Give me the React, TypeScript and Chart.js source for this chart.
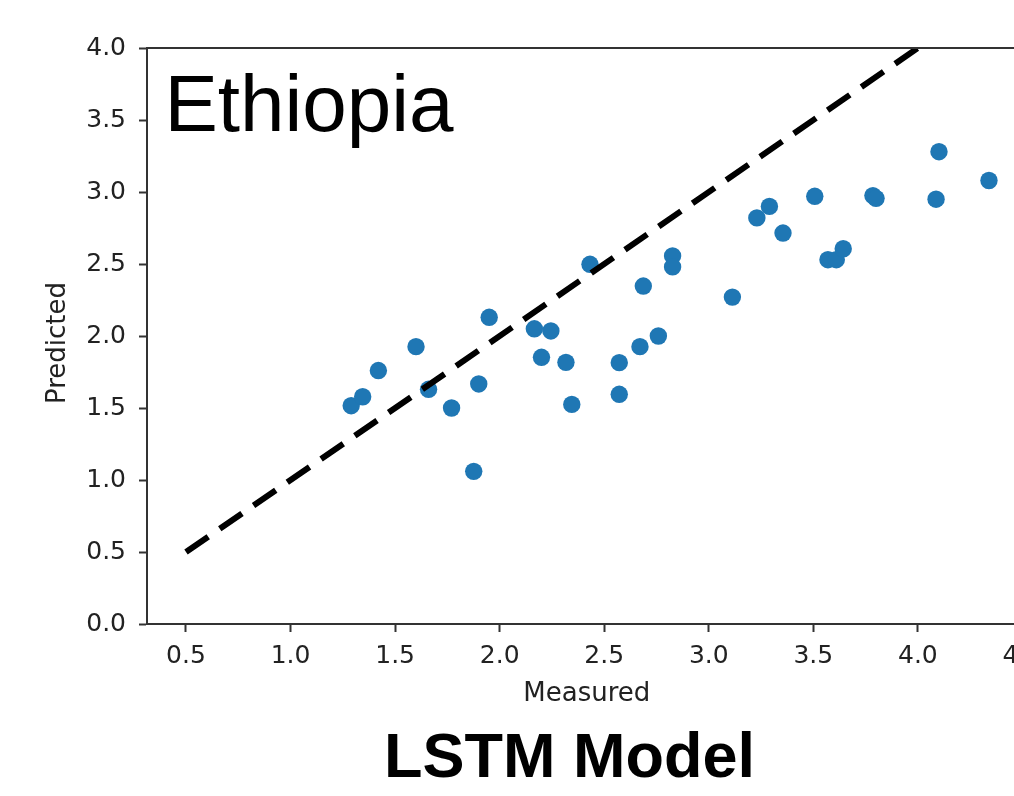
import React, { useEffect, useRef } from "react";
import { Chart, registerables } from "chart.js";

Chart.register(...registerables);

// ---- data ----
const measured = [
  1.29, 1.345, 1.42, 1.6, 1.66, 1.77, 1.876, 1.9, 1.95, 2.166, 2.245, 2.2,
  2.317, 2.345, 2.432, 2.572, 2.572, 2.671, 2.687, 2.759, 2.827, 2.827, 3.113,
  3.23, 3.29, 3.355, 3.507, 3.57, 3.61, 3.643, 3.785, 3.8, 4.087, 4.101, 4.34,
];
const predicted = [
  1.516, 1.578, 1.76, 1.926, 1.63, 1.5, 1.06, 1.667, 2.13, 2.05, 2.035, 1.852,
  1.817, 1.525, 2.498, 1.815, 1.595, 1.926, 2.347, 2.0, 2.556, 2.48, 2.27,
  2.82, 2.9, 2.715, 2.97, 2.53, 2.53, 2.606, 2.975, 2.956, 2.95, 3.28, 3.08,
];
const identityX = [0.5, 4.5];
const identityY = [0.5, 4.5];
const xLimits = [0.3135, 4.52];
const yLimits = [0, 4];
const tickStep = 0.5;
const panelLabel = "Ethiopia";
const modelLabel = "LSTM Model";
const xTitle = "Measured";
const yTitle = "Predicted";

const CANVAS_W = 1100;
const CANVAS_H = 796;
const SPINE = "#333333";
const TEXT = "#222222";

const decorations = {
  id: "decorations",
  afterDatasetsDraw(chart: any) {
    const { ctx, chartArea } = chart;
    ctx.save();
    ctx.strokeStyle = SPINE;
    ctx.lineWidth = 2;
    ctx.beginPath();
    ctx.moveTo(chartArea.left - 1, chartArea.top);
    ctx.lineTo(chartArea.right + 1, chartArea.top);
    ctx.moveTo(chartArea.right, chartArea.top);
    ctx.lineTo(chartArea.right, chartArea.bottom);
    ctx.stroke();
    // y-axis title (rotated), placed as in the reference
    ctx.translate(58, 343);
    ctx.rotate(-Math.PI / 2);
    ctx.fillStyle = TEXT;
    ctx.font = '26px "DejaVu Sans"';
    ctx.textAlign = "center";
    ctx.textBaseline = "middle";
    ctx.fillText(yTitle, 0, 0);
    ctx.restore();
  },
};

export default function App() {
  const ref = useRef<HTMLCanvasElement | null>(null);

  useEffect(() => {
    if (!ref.current) return;
    const points = measured.map((m, i) => ({ x: m, y: predicted[i] }));
    const line = identityX.map((v, i) => ({ x: v, y: identityY[i] }));
    const tickFont = { family: '"DejaVu Sans"', size: 25 };
    const titleFont = { family: '"DejaVu Sans"', size: 26 };
    const chart = new Chart(ref.current, {
      type: "scatter",
      data: {
        datasets: [
          {
            type: "line",
            data: line,
            borderColor: "#000000",
            borderWidth: 6,
            borderDash: [27, 14],
            borderCapStyle: "butt",
            pointRadius: 0,
            fill: false,
            clip: 0,
            order: 0,
          } as any,
          {
            type: "scatter",
            data: points,
            backgroundColor: "#1f77b4",
            borderWidth: 0,
            pointRadius: 8.7,
            pointHoverRadius: 8.7,
            order: 1,
          } as any,
        ],
      },
      options: {
        responsive: false,
        animation: false,
        devicePixelRatio: 1,
        layout: {
          padding: {
            left: 0,
            top: 48,
            right: CANVAS_W - 1026.6,
            bottom: CANVAS_H - 709.6,
          },
        },
        plugins: {
          legend: { display: false },
          tooltip: { enabled: false },
          title: { display: false },
        },
        scales: {
          x: {
            type: "linear",
            min: xLimits[0],
            max: xLimits[1],
            afterFit: (s: any) => {
              s.height = 85.6;
            },
            ticks: {
              stepSize: tickStep,
              includeBounds: false,
              font: tickFont,
              color: TEXT,
              padding: 9,
              maxRotation: 0,
              callback: (v: any) => Number(v).toFixed(1),
            },
            grid: {
              display: true,
              drawOnChartArea: false,
              drawTicks: true,
              tickLength: 8,
              tickWidth: 2,
              tickColor: SPINE,
            },
            border: { display: true, color: SPINE, width: 2 },
            title: {
              display: true,
              text: xTitle,
              font: titleFont,
              color: TEXT,
              padding: { top: 0, bottom: 0 },
            },
          },
          y: {
            type: "linear",
            min: yLimits[0],
            max: yLimits[1],
            afterFit: (s: any) => {
              s.width = 147;
            },
            ticks: {
              stepSize: tickStep,
              includeBounds: false,
              font: tickFont,
              color: TEXT,
              padding: 13,
              callback: (v: any) => Number(v).toFixed(1),
            },
            grid: {
              display: true,
              drawOnChartArea: false,
              drawTicks: true,
              tickLength: 8,
              tickWidth: 2,
              tickColor: SPINE,
            },
            border: { display: true, color: SPINE, width: 2 },
            title: { display: false },
          },
        },
      },
      plugins: [decorations],
    });
    return () => chart.destroy();
  }, []);

  return (
    <div
      style={{
        position: "fixed",
        left: 0,
        top: 0,
        width: 1014,
        height: 796,
        overflow: "hidden",
        background: "#ffffff",
      }}
    >
      <canvas
        ref={ref}
        width={CANVAS_W}
        height={CANVAS_H}
        style={{ position: "absolute", left: 0, top: 0, width: CANVAS_W, height: CANVAS_H }}
      />
      <div
        style={{
          position: "absolute",
          left: 164.5,
          top: 63.8,
          fontFamily: '"Liberation Sans", Arial, sans-serif',
          fontSize: 80,
          lineHeight: 1,
          color: "#000000",
          whiteSpace: "nowrap",
        }}
      >
        {panelLabel}
      </div>
      <div
        style={{
          position: "absolute",
          left: 0,
          width: 1139,
          top: 724,
          textAlign: "center",
          fontFamily: '"Liberation Sans", Arial, sans-serif',
          fontWeight: 700,
          fontSize: 63,
          lineHeight: 1,
          color: "#000000",
          whiteSpace: "nowrap",
        }}
      >
        {modelLabel}
      </div>
    </div>
  );
}
